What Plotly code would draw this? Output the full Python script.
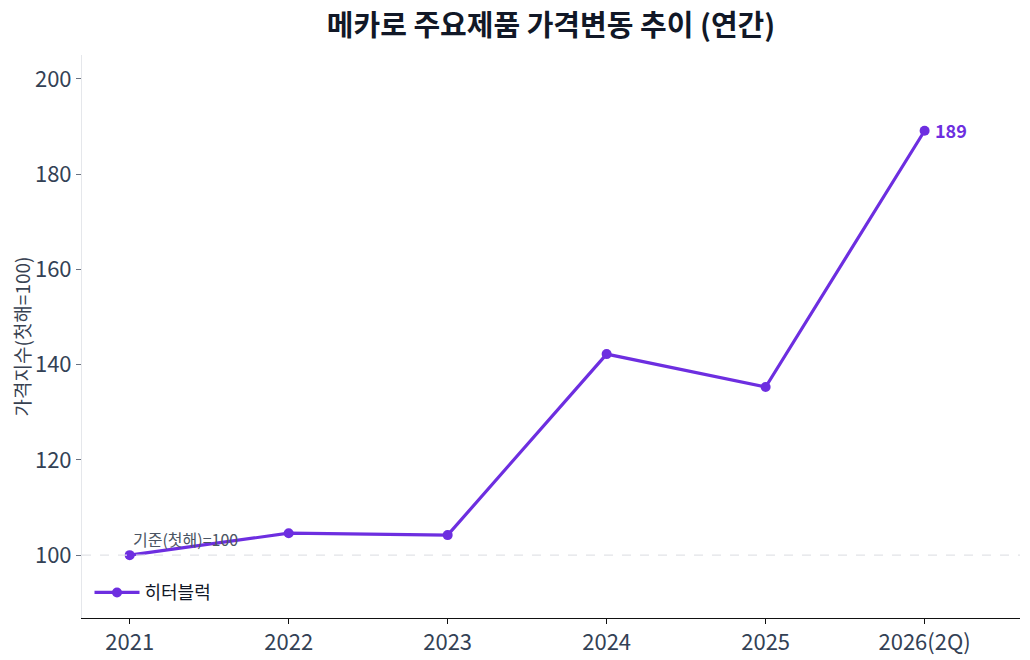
import plotly.graph_objects as go

years = ["2021", "2022", "2023", "2024", "2025", "2026(2Q)"]
price_index = [100, 104.6, 104.2, 142.2, 135.3, 189.1]
series_name = "히터블럭"
last_label = "189"

PURPLE = "#6d2ee0"
FONT = "Noto Sans CJK KR"

fig = go.Figure()
fig.add_trace(go.Scatter(
    x=list(range(len(years))), y=price_index, mode="lines+markers",
    name=series_name,
    line=dict(color=PURPLE, width=3.2),
    marker=dict(size=10, color=PURPLE)))

# ligne de base = 100
fig.add_hline(y=100, line=dict(color="#e2e4e8", width=1.2, dash="dash"))

fig.add_annotation(x=0, y=100, text="기준(첫해)=100", showarrow=False,
                   xanchor="left", yanchor="middle", xshift=1, yshift=16,
                   font=dict(family=FONT, size=16, color="#4b5563"))
fig.add_annotation(x=len(years) - 1, y=price_index[-1], text=f"<b>{last_label}</b>",
                   showarrow=False, xanchor="left", xshift=8, yshift=1,
                   font=dict(family=FONT, size=18, color=PURPLE))

# la page ajoute une marge de 8 px : figure un peu plus petite que la fenêtre
fig.update_layout(
    width=1022, height=652,
    paper_bgcolor="white", plot_bgcolor="white",
    font=dict(family=FONT, color="#334155"),
    title=dict(text="<b>메카로 주요제품 가격변동 추이 (연간)</b>", x=0.5, xref="paper",
               y=0.972, xanchor="center", yanchor="middle",
               font=dict(family=FONT, size=29, color="#111827")),
    margin=dict(l=74, r=10, t=47, b=42),
    showlegend=True,
    legend=dict(x=0.008, y=0.012, xanchor="left", yanchor="bottom",
                bgcolor="rgba(255,255,255,0)", itemwidth=45,
                font=dict(family=FONT, size=18, color="#111827")),
    xaxis=dict(tickvals=list(range(len(years))), ticktext=years,
               range=[-0.3, 5.6], showgrid=False, zeroline=False,
               showline=True, linecolor="#111111", linewidth=1,
               ticks="outside", ticklen=5, tickcolor="#111111",
               automargin=False,
               tickfont=dict(family=FONT, size=22, color="#334155")),
    yaxis=dict(range=[86.8, 205], tickvals=[100, 120, 140, 160, 180, 200],
               showgrid=False, zeroline=False,
               showline=True, linecolor="#e5e7eb", linewidth=1,
               ticks="outside", ticklen=5, tickcolor="#6b7280",
               automargin=False,
               tickfont=dict(family=FONT, size=22, color="#334155"),
               title=dict(text="가격지수(첫해=100)", standoff=4,
                          font=dict(family=FONT, size=19, color="#374151"))),
)

fig.write_html("out.html")
